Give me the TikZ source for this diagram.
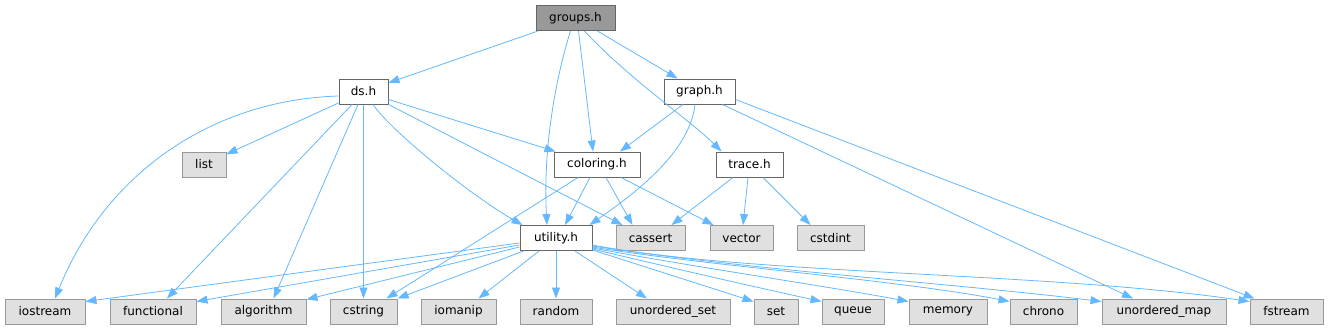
\documentclass[tikz,border=0pt]{standalone}
\usepackage{fontspec}
\setmainfont{DejaVu Sans}
\usetikzlibrary{calc,arrows.meta}
\definecolor{edgec}{HTML}{63B8FF}
\definecolor{grayfill}{HTML}{E0E0E0}
\definecolor{grayline}{HTML}{999999}
\definecolor{darkline}{HTML}{666666}
\definecolor{mainfill}{HTML}{999999}
\begin{document}
\begin{tikzpicture}[x=1pt,y=-1pt,
  box/.style={draw, line width=1pt, minimum height=25pt, inner sep=0pt, font=\fontsize{12}{14}\selectfont, anchor=center},
  mainbox/.style={box, fill=mainfill, draw=darkline},
  hdrbox/.style={box, fill=white, draw=darkline},
  sysbox/.style={box, fill=grayfill, draw=grayline},
  dep/.style={draw=edgec, line width=0.8pt, -{Triangle[length=11pt,width=8pt]}, fill=none},
]
\useasboundingbox (0,0) rectangle (1329,329);
% nodes
\node[mainbox, minimum width=79pt] (groups) at (575.5,18) {groups.h};
\node[hdrbox, minimum width=49pt] (ds) at (363.5,91.5) {ds.h};
\node[hdrbox, minimum width=71pt] (graph) at (699.5,91.5) {graph.h};
\node[sysbox, minimum width=44pt] (list) at (204,164.5) {list};
\node[hdrbox, minimum width=86pt] (coloring) at (597,164.5) {coloring.h};
\node[hdrbox, minimum width=67pt] (trace) at (749.5,164.5) {trace.h};
\node[hdrbox, minimum width=72pt] (utility) at (556,238) {utility.h};
\node[sysbox, minimum width=69pt] (cassert) at (650.5,238) {cassert};
\node[sysbox, minimum width=63pt] (vector) at (741.5,238) {vector};
\node[sysbox, minimum width=67pt] (cstdint) at (830.5,238) {cstdint};
\node[sysbox, minimum width=80pt] (iostream) at (45,311.5) {iostream};
\node[sysbox, minimum width=86pt] (functional) at (153,311.5) {functional};
\node[sysbox, minimum width=85pt] (algorithm) at (263.5,311.5) {algorithm};
\node[sysbox, minimum width=67pt] (cstring) at (363.5,311.5) {cstring};
\node[sysbox, minimum width=75pt] (iomanip) at (458.5,311.5) {iomanip};
\node[sysbox, minimum width=72pt] (random) at (556,311.5) {random};
\node[sysbox, minimum width=114pt] (uset) at (673,311.5) {unordered\_set};
\node[sysbox, minimum width=44pt] (set) at (776,311.5) {set};
\node[sysbox, minimum width=62pt] (queue) at (853,311.5) {queue};
\node[sysbox, minimum width=78pt] (memory) at (948,311.5) {memory};
\node[sysbox, minimum width=67pt] (chrono) at (1043.5,311.5) {chrono};
\node[sysbox, minimum width=124pt] (umap) at (1164,311.5) {unordered\_map};
\node[sysbox, minimum width=73pt] (fstream) at (1286.5,311.5) {fstream};
% groups.h
\draw[dep] (groups) -- (ds);
\draw[dep] (groups) -- (graph);
\draw[dep] ($(groups.south)+(3,0)$) -- ($(coloring.north)+(-4,0)$);
\draw[dep] ($(groups.south)+(-5,0)$) .. controls (555,80) and (543,150) .. ($(utility.north)+(-9,0)$);
\draw[dep] ($(groups.south)+(9,0)$) .. controls (630,80) and (690,120) .. ($(trace.north)+(-28,0)$);
% ds.h
\draw[dep] (ds) -- (list);
\draw[dep] ($(ds.west)+(0,4.5)$) .. controls (210,100) and (105,175) .. ($(iostream.north)+(10,0)$);
\draw[dep] ($(ds.south)+(-11.5,0)$) -- ($(functional.north)+(14,0)$);
\draw[dep] ($(ds.south)+(-5.5,0)$) -- ($(algorithm.north)+(10,0)$);
\draw[dep] (ds) -- (cstring);
\draw[dep] ($(ds.south)+(9.5,0)$) .. controls (390,130) and (470,195) .. ($(utility.north west)+(3,0)$);
\draw[dep] ($(ds.east)+(0,8)$) -- ($(coloring.north west)+(2,0)$);
\draw[dep] (ds.south east) -- ($(cassert.north west)+(7,0)$);
% graph.h
\draw[dep] ($(graph.south)+(-16.5,0)$) -- ($(coloring.north)+(23,0)$);
\draw[dep] ($(graph.south)+(-4.5,0)$) .. controls (690,150) and (640,190) .. ($(utility.north east)+(-3,0)$);
\draw[dep] ($(graph.south)+(23,0)$) -- ($(umap.north)+(-31,0)$);
\draw[dep] ($(graph.east)+(0,8)$) -- ($(fstream.north west)+(5,0)$);
% coloring.h
\draw[dep] ($(coloring.south)+(-7,0)$) -- ($(utility.north)+(9,0)$);
\draw[dep] ($(coloring.south)+(9,0)$) -- ($(cassert.north)+(-18,0)$);
\draw[dep] ($(coloring.south)+(24,0)$) -- ($(vector.north)+(-28,0)$);
\draw[dep] ($(coloring.south)+(-19,0)$) -- ($(cstring.north)+(23,0)$);
% trace.h
\draw[dep] ($(trace.south)+(-16.5,0)$) -- ($(cassert.north)+(21,0)$);
\draw[dep] ($(trace.south)+(-1.5,0)$) -- ($(vector.north)+(1.5,0)$);
\draw[dep] ($(trace.south)+(13.5,0)$) -- ($(cstdint.north)+(-20,0)$);
% utility.h
\draw[dep] ($(utility.west)+(0,5)$) -- ($(iostream.north east)+(0,3)$);
\draw[dep] ($(utility.west)+(0,7)$) -- ($(functional.north east)+(0,3)$);
\draw[dep] ($(utility.west)+(0,9)$) -- ($(algorithm.north east)+(0,1)$);
\draw[dep] ($(utility.south west)+(4,0)$) -- ($(cstring.north east)+(0,0)$);
\draw[dep] ($(utility.south)+(-17,0)$) -- ($(iomanip.north)+(20,0)$);
\draw[dep] (utility) -- (random);
\draw[dep] ($(utility.south)+(19,0)$) -- ($(uset.north)+(-26,0)$);
\draw[dep] ($(utility.south east)+(0,-1)$) -- ($(set.north west)+(0,3)$);
\draw[dep] ($(utility.south east)+(0,-2)$) .. controls (680,270) and (760,288) .. ($(queue.north west)+(0,3)$);
\draw[dep] ($(utility.south east)+(0,-3)$) .. controls (700,268) and (820,285) .. ($(memory.north west)+(0,3)$);
\draw[dep] ($(utility.south east)+(0,-4)$) .. controls (700,265) and (900,280) .. ($(chrono.north west)+(0,3)$);
\draw[dep] ($(utility.south east)+(0,-5)$) .. controls (750,270) and (950,283) .. ($(umap.north west)+(0,3)$);
\draw[dep] ($(utility.south east)+(0,-6)$) .. controls (750,275) and (1050,272) .. ($(fstream.north west)+(0,3)$);
\end{tikzpicture}
\end{document}
